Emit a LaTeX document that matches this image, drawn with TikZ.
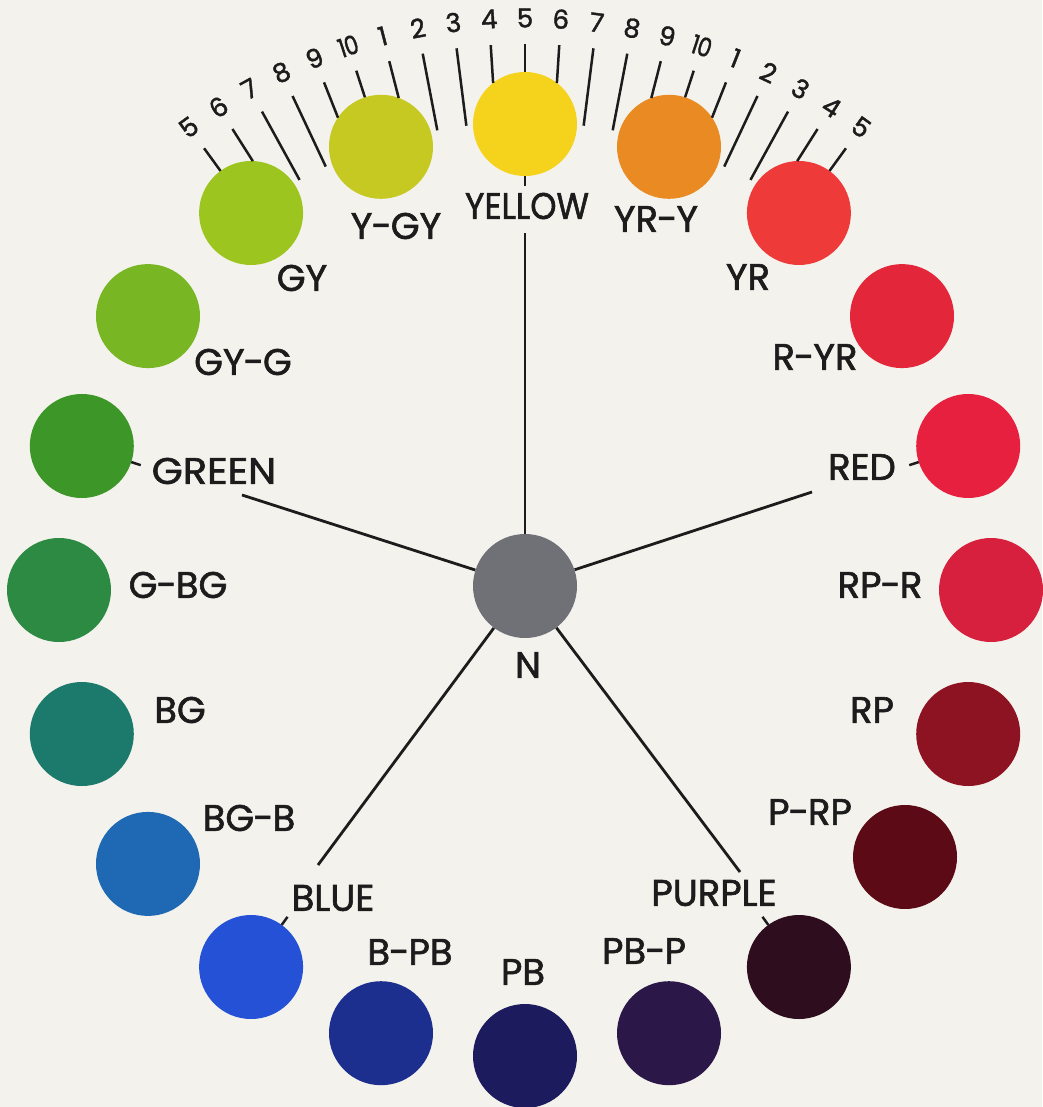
\documentclass[tikz,border=0pt]{standalone}
\usepackage{fontspec}
\setmainfont{Poppins}
\newfontfamily\lettering{Poppins}[FakeBold=1.6]
\newfontfamily\digits{Poppins}[FakeBold=1.6]
\newcommand{\hy}{\kern-1pt-\kern-1pt}
\usetikzlibrary{calc}
\definecolor{paper}{HTML}{F3F2EC}
\definecolor{ink}{HTML}{1C1C1C}
\definecolor{cY}{HTML}{F5D31C}
\definecolor{cYGY}{HTML}{C5C921}
\definecolor{cGY}{HTML}{9DC51F}
\definecolor{cGYG}{HTML}{78B623}
\definecolor{cG}{HTML}{3C9628}
\definecolor{cGBG}{HTML}{2D8A42}
\definecolor{cBG}{HTML}{1B7A6B}
\definecolor{cBGB}{HTML}{1E68B4}
\definecolor{cB}{HTML}{2451D6}
\definecolor{cBPB}{HTML}{1C2E8E}
\definecolor{cPB}{HTML}{1B1B5E}
\definecolor{cPBP}{HTML}{2B1748}
\definecolor{cP}{HTML}{2D0D1E}
\definecolor{cPRP}{HTML}{5C0A16}
\definecolor{cRP}{HTML}{8D1222}
\definecolor{cRPR}{HTML}{D6203D}
\definecolor{cR}{HTML}{E8203F}
\definecolor{cRYR}{HTML}{E4263B}
\definecolor{cYR}{HTML}{EE3B3A}
\definecolor{cYRY}{HTML}{EA8A22}
\definecolor{cN}{HTML}{6F7177}
\begin{document}
\begin{tikzpicture}[x=1pt,y=1pt,
  disc/.style={circle,inner sep=0pt,minimum size=104pt},
  lbl/.style={text=ink,font=\lettering\fontsize{37}{37}\selectfont,inner sep=0pt},
  num/.style={text=ink,font=\digits\fontsize{26}{26}\selectfont,inner sep=0pt},
  inkline/.style={draw=ink,line width=2.8pt},
  tickline/.style={draw=ink,line width=2.5pt}]
\fill[paper] (0,0) rectangle (1042,-1107);
\useasboundingbox (0,0) rectangle (1042,-1107);
\coordinate (O) at (525,-590);
% ring of hue discs
\foreach \nm/\a/\c in {Y/90/cY, YGY/108/cYGY, GY/126/cGY, GYG/144/cGYG, G/162/cG,
  GBG/180/cGBG, BG/198/cBG, BGB/216/cBGB, B/234/cB, BPB/252/cBPB, PB/270/cPB,
  PBP/288/cPBP, P/306/cP, RP/342/cRP, RPR/0/cRPR, R/18/cR,
  RYR/36/cRYR, YR/54/cYR, YRY/72/cYRY}
  \node[disc,fill=\c] (d\nm) at ([shift={(\a:466)}]O) {};
\node[disc,fill=cPRP] (dPRP) at (905,-857) {};
% neutral
\node[disc,fill=cN] (N) at (525,-586) {};
% spoke ends
\coordinate (eY) at (525,-233);
\coordinate (eG) at (242,-495);
\coordinate (eR) at (812,-492);
\coordinate (eB) at (318,-865);
\coordinate (eP) at (740,-872);
\foreach \e in {eY,eG,eR,eB,eP} \draw[inkline] (N) -- (\e);
% short ticks from principal discs
\foreach \nm in {Y,G,R,B,P}
  \draw[tickline] ($(d\nm)!52pt!(O)$) -- ($(d\nm)!62pt!(O)$);
% scale ticks and numbers
\foreach \k in {0,...,20}{
  \pgfmathsetmacro{\ang}{126-3.6*\k}
  \pgfmathtruncatemacro{\m}{mod(\k,5)}
  \pgfmathtruncatemacro{\lab}{mod(\k+4,10)+1}
  \pgfmathsetmacro{\rin}{\m==0 ? 518 : ((\m==1 || \m==4) ? 508 : 468)}
  \draw[tickline] ([shift={(\ang:\rin)}]O) -- ([shift={(\ang:546)}]O);
  \ifnum\lab=10
    \node[num,rotate=\ang-90,xscale=0.85] (n\k) at ([shift={(\ang:572)}]O) {1\kern-1pt0};
  \else
    \node[num,rotate=\ang-90] (n\k) at ([shift={(\ang:572)}]O) {\lab};
  \fi
}
% labels
\node[lbl,xscale=0.9] (lY) at (527,-206) {YELLOW};
\node[lbl] (lYGY) at (396,-226) {Y\hy GY};
\node[lbl] (lYRY) at (656,-219) {YR\hy Y};
\node[lbl] (lGY) at (302,-278) {GY};
\node[lbl] (lYR) at (748,-277) {YR};
\node[lbl] (lGYG) at (243,-362) {GY\hy G};
\node[lbl] (lRYR) at (815,-357) {R\hy YR};
\node[lbl,xscale=1.08] (lG) at (214,-471) {GREEN};
\node[lbl] (lR) at (862,-467) {RED};
\node[lbl] (lGBG) at (178,-585) {G\hy BG};
\node[lbl] (lRPR) at (880,-585) {RP\hy R};
\node[lbl] (lBG) at (180,-710) {BG};
\node[lbl] (lRP) at (872,-710) {RP};
\node[lbl] (lBGB) at (249,-818) {BG\hy B};
\node[lbl] (lPRP) at (810,-812) {P\hy RP};
\node[lbl] (lB) at (333,-898) {BLUE};
\node[lbl] (lP) at (714,-893) {PURPLE};
\node[lbl] (lBPB) at (410,-952) {B\hy PB};
\node[lbl] (lPB) at (523,-972) {PB};
\node[lbl] (lPBP) at (644,-951) {PB\hy P};
\node[lbl] (lN) at (528,-665) {N};
\end{tikzpicture}
\end{document}
